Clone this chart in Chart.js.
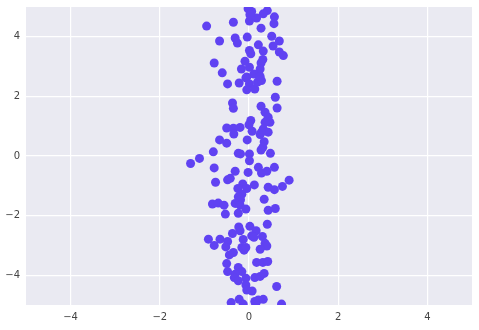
<!DOCTYPE html>
<html>
<head>
<meta charset="utf-8">
<script src="https://cdn.jsdelivr.net/npm/chart.js@4/dist/chart.umd.min.js"></script>
<style>
  html, body { margin: 0; padding: 0; background: #fff; }
  #wrap { width: 479px; height: 330px; }
</style>
</head>
<body>
<div id="wrap"><canvas id="c"></canvas></div>
<script>
// scatter values
var xs = [-0.02,0.06,0.41,0.32,0.57,-0.95,-0.35,0.01,0.17,0.02,0.56,0.27,-0.66,-0.31,-0.26,-0.04,0.21,0.51,0.68,0.54,
  0.01,0.04,0.32,0.68,0.77,-0.78,-0.09,0.01,0.31,0.27,-0.17,-0.60,0.25,0.21,0.11,-0.05,
  -0.48,-0.22,-0.07,0.01,-0.05,0.13,0.19,0.28,0.25,0.63,0.59,-0.37,-0.35,0.27,0.63,0.36,0.43,0.47,0.36,0.04,0.00,
  -0.50,-0.35,-0.20,-0.34,0.07,0.32,0.43,0.25,0.28,-0.66,-0.50,-0.04,0.34,0.31,0.27,-0.80,-0.24,0.01,0.48,
  -0.19,0.01,-1.31,-1.11,-0.78,-0.31,-0.02,0.21,0.28,0.40,0.57,-0.75,-0.48,-0.42,-0.14,-0.25,-0.05,0.12,0.43,0.57,0.75,0.90,
  -0.16,-0.24,-0.19,0.34,-0.31,-0.20,-0.82,-0.69,-0.56,-0.07,-0.24,-0.53,0.43,0.59,-0.23,0.02,0.41,
  -0.20,0.16,0.06,0.11,0.30,-0.37,-0.91,-0.65,-0.48,-0.52,-0.78,-0.13,-0.16,-0.11,-0.07,0.36,0.40,0.25,-0.35,-0.44,
  -0.50,0.17,0.31,0.42,-0.24,-0.16,-0.48,-0.31,-0.33,-0.24,-0.07,0.13,0.25,0.34,-0.07,-0.05,0.07,0.62,
  -0.40,-0.22,-0.13,0.13,0.21,0.32,0.73,0.15];
var ys = [4.94,4.85,4.88,4.77,4.67,4.36,4.49,4.53,4.63,4.74,4.44,4.29,3.86,3.96,3.79,3.99,3.73,4.02,3.86,3.69,
  3.54,3.43,3.52,3.49,3.37,3.12,3.18,2.98,3.24,3.12,2.92,2.79,2.92,2.76,2.75,2.65,
  2.42,2.45,2.62,2.42,2.22,2.25,2.48,2.53,2.67,2.51,1.97,1.78,1.60,1.67,1.61,1.47,1.30,1.13,1.13,1.19,1.05,
  0.94,0.93,0.96,0.74,0.83,0.91,0.80,0.72,0.80,0.54,0.43,0.54,0.48,0.29,0.20,0.14,0.09,0.07,0.09,
  0.07,-0.16,-0.25,-0.08,-0.40,-0.51,-0.55,-0.38,-0.57,-0.51,-0.38,-0.88,-0.80,-0.75,-0.94,-1.09,-1.09,-0.97,-1.05,-1.13,-1.02,-0.81,
  -1.28,-1.37,-1.47,-1.45,-1.59,-1.65,-1.61,-1.58,-1.65,-1.78,-1.92,-1.95,-1.82,-1.76,-2.38,-2.36,-2.29,
  -2.51,-2.51,-2.68,-2.73,-2.70,-2.60,-2.79,-2.79,-2.87,-3.05,-3.00,-2.80,-3.07,-3.16,-3.07,-2.93,-3.02,-3.13,-3.24,-3.32,
  -3.61,-3.57,-3.57,-3.54,-3.74,-3.88,-3.88,-3.97,-4.08,-4.19,-4.10,-4.08,-4.04,-3.94,-4.33,-4.50,-4.53,-4.38,
  -4.92,-4.81,-4.97,-4.88,-4.83,-4.81,-4.97,-4.97];
var tickVals = [-4, -2, 0, 2, 4];

var pts = xs.map(function (x, i) { return { x: x, y: ys[i] }; });

function fmt(v) { return v < 0 ? '\u2212' + Math.abs(v) : String(v); }

var bgPlugin = {
  id: 'bg',
  beforeDraw: function (chart) {
    var a = chart.chartArea, ctx = chart.ctx;
    ctx.save();
    ctx.fillStyle = '#eaeaf2';
    ctx.fillRect(a.left, a.top, a.right - a.left, a.bottom - a.top);
    ctx.restore();
  }
};

Chart.defaults.font.family = 'DejaVu Sans';
Chart.defaults.font.size = 10;
Chart.defaults.color = '#444';

new Chart(document.getElementById('c'), {
  type: 'scatter',
  data: {
    datasets: [{
      data: pts,
      backgroundColor: '#6042f2',
      borderWidth: 0,
      pointRadius: 4.5,
      pointHoverRadius: 4.5
    }]
  },
  options: {
    responsive: true,
    maintainAspectRatio: false,
    animation: false,
    layout: { padding: { left: 0, top: 7, right: 7, bottom: 0 } },
    plugins: { legend: { display: false }, tooltip: { enabled: false } },
    scales: {
      x: {
        min: -5, max: 5,
        afterBuildTicks: function (s) { s.ticks = tickVals.map(function (v) { return { value: v }; }); },
        afterFit: function (s) { s.height = 25; s.paddingLeft = 0; s.paddingRight = 0; },
        grid: { color: '#fff', lineWidth: 1.2, drawTicks: false },
        border: { display: false },
        ticks: { padding: 6, callback: function (v) { return fmt(v); } }
      },
      y: {
        min: -5, max: 5,
        afterBuildTicks: function (s) { s.ticks = tickVals.map(function (v) { return { value: v }; }); },
        afterFit: function (s) { s.width = 26; s.paddingTop = 0; s.paddingBottom = 0; },
        grid: { color: '#fff', lineWidth: 1.2, drawTicks: false },
        border: { display: false },
        ticks: { padding: 6, callback: function (v) { return fmt(v); } }
      }
    }
  },
  plugins: [bgPlugin]
});
</script>
</body>
</html>
